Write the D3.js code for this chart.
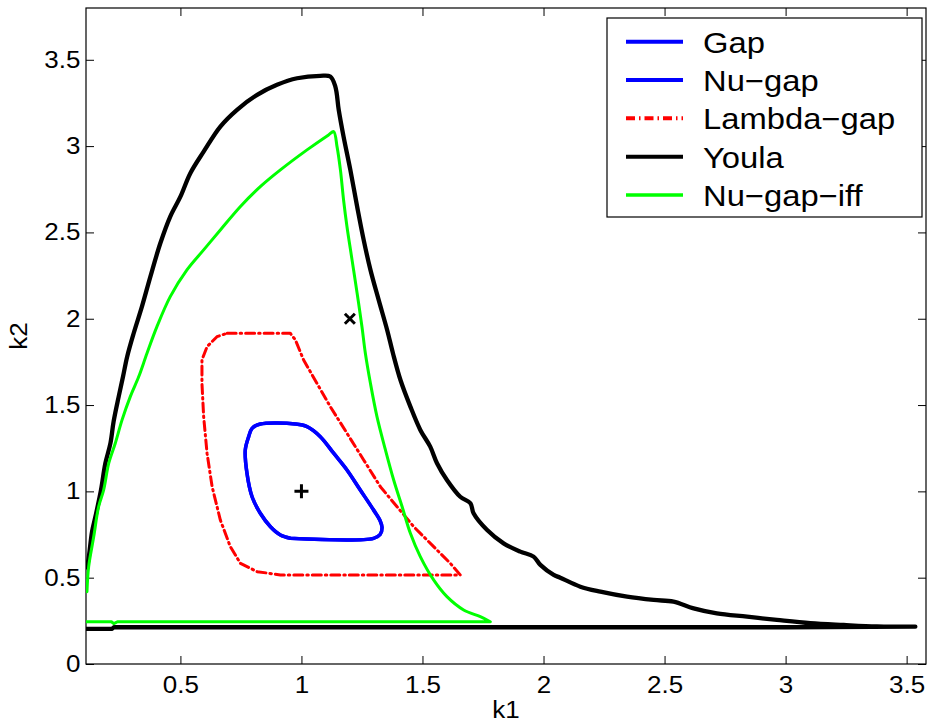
<!DOCTYPE html>
<html>
<head>
<meta charset="utf-8">
<script src="https://cdn.jsdelivr.net/npm/d3@7"></script>
<style>
  html, body { margin: 0; padding: 0; background: #fff; }
  svg { display: block; }
  text { font-family: "Liberation Sans", Arial, sans-serif; fill: #000; }
</style>
</head>
<body>
<svg id="chart" width="927" height="724"></svg>
<script>
// ---------------- data ----------------
const xTicks = [0.5, 1, 1.5, 2, 2.5, 3, 3.5];
const yTicks = [0, 0.5, 1, 1.5, 2, 2.5, 3, 3.5];
const xLabel = "k1";
const yLabel = "k2";
const legendLabels = ["Gap", "Nu\u2212gap", "Lambda\u2212gap", "Youla", "Nu\u2212gap\u2212iff"];

// Gap (and Nu-gap, identical) closed contour [k1, k2]
const gapCurve = [
  [0.954, 0.728], [1.298, 0.728], [1.325, 0.750], [1.333, 0.790], [1.325, 0.830], [1.298, 0.892],
  [1.243, 1.008], [1.188, 1.124], [1.133, 1.221], [1.078, 1.317], [1.023, 1.375],
  [0.975, 1.390], [0.830, 1.390], [0.796, 1.365], [0.782, 1.317], [0.768, 1.240],
  [0.775, 1.105], [0.796, 0.969], [0.830, 0.873], [0.872, 0.795], [0.913, 0.747],
  [0.954, 0.728]
];
const nuGapCurve = gapCurve;

// Lambda-gap closed contour
const lambdaGapCurve = [
  [0.693, 1.916], [0.954, 1.916], [0.975, 1.877], [1.009, 1.761], [1.064, 1.626],
  [1.119, 1.491], [1.188, 1.337], [1.257, 1.182], [1.326, 1.027], [1.395, 0.911],
  [1.464, 0.795], [1.546, 0.680], [1.615, 0.583], [1.656, 0.516], [0.913, 0.516],
  [0.817, 0.535], [0.748, 0.583], [0.706, 0.680], [0.665, 0.834], [0.631, 1.027],
  [0.610, 1.221], [0.596, 1.433], [0.589, 1.626], [0.589, 1.761], [0.610, 1.838],
  [0.651, 1.896], [0.693, 1.916]
];

// Youla boundary (first 6 points: straight bottom edge)
const youlaCurve = [
  [0.110, 0.204], [0.218, 0.204], [0.225, 0.213], [1.500, 0.213], [3.000, 0.213],
  [3.536, 0.216], [3.377, 0.218], [3.240, 0.226], [3.102, 0.236], [2.964, 0.255],
  [2.841, 0.274], [2.716, 0.293], [2.620, 0.322], [2.537, 0.361], [2.455, 0.371],
  [2.345, 0.390], [2.235, 0.419], [2.152, 0.448], [2.069, 0.500], [2.042, 0.516],
  [1.987, 0.574], [1.959, 0.622], [1.904, 0.651], [1.835, 0.699], [1.767, 0.776],
  [1.711, 0.873], [1.698, 0.931], [1.656, 0.969], [1.601, 1.066], [1.560, 1.163],
  [1.532, 1.259], [1.491, 1.356], [1.450, 1.491], [1.409, 1.645], [1.378, 1.800],
  [1.354, 1.935], [1.319, 2.109], [1.285, 2.283], [1.257, 2.457], [1.230, 2.650],
  [1.202, 2.862], [1.174, 3.055], [1.154, 3.210], [1.140, 3.345], [1.119, 3.403],
  [1.078, 3.407], [0.982, 3.393], [0.899, 3.355], [0.817, 3.297], [0.734, 3.210],
  [0.665, 3.113], [0.596, 2.968], [0.541, 2.843], [0.500, 2.707], [0.458, 2.592],
  [0.417, 2.437], [0.376, 2.244], [0.341, 2.070], [0.307, 1.916], [0.280, 1.780],
  [0.263, 1.665], [0.245, 1.549], [0.224, 1.404], [0.211, 1.279], [0.190, 1.163],
  [0.172, 1.008], [0.149, 0.854], [0.135, 0.767], [0.117, 0.583], [0.110, 0.560]
];

// Nu-gap-iff boundary (first 6 points: straight bottom edge)
const nuGapIffCurve = [
  [0.110, 0.245], [0.215, 0.245], [0.225, 0.234], [0.240, 0.245], [1.000, 0.245],
  [1.780, 0.245], [1.739, 0.274], [1.670, 0.313], [1.601, 0.390], [1.546, 0.487],
  [1.491, 0.622], [1.450, 0.757], [1.416, 0.911], [1.381, 1.066], [1.347, 1.240],
  [1.312, 1.433], [1.285, 1.626], [1.264, 1.800], [1.250, 1.954], [1.230, 2.148],
  [1.209, 2.341], [1.188, 2.534], [1.174, 2.688], [1.161, 2.862], [1.147, 2.997],
  [1.133, 3.084], [1.112, 3.065], [1.023, 2.978], [0.913, 2.862], [0.830, 2.765],
  [0.748, 2.650], [0.665, 2.514], [0.596, 2.399], [0.527, 2.283], [0.458, 2.128],
  [0.403, 1.954], [0.362, 1.800], [0.328, 1.665], [0.293, 1.549], [0.259, 1.414],
  [0.231, 1.279], [0.204, 1.163], [0.183, 1.008], [0.162, 0.911], [0.142, 0.738],
  [0.121, 0.564], [0.114, 0.419]
];

// markers
const plusPoint = [1.0, 1.0];
const crossPoint = [1.2, 2.0];

// ---------------- drawing ----------------
const svg = d3.select("#chart");
const L = 86, R = 926, T = 8, B = 664;
const x = d3.scaleLinear().domain([0.11, 3.58]).range([L, R]);
const y = d3.scaleLinear().domain([0, 3.8]).range([B, T]);
const SX = 1.13;

svg.append("defs").append("clipPath").attr("id", "plotclip")
  .append("rect").attr("x", L).attr("y", T).attr("width", R - L).attr("height", B - T);

// axes
const gx = svg.append("g").attr("transform", `translate(0,${B})`)
  .call(d3.axisBottom(x).tickValues(xTicks).tickFormat(d => String(d))
    .tickSizeInner(-8).tickSizeOuter(0).tickPadding(13));
const gy = svg.append("g").attr("transform", `translate(${L},0)`)
  .call(d3.axisLeft(y).tickValues(yTicks).tickFormat(d => String(d))
    .tickSizeInner(-8).tickSizeOuter(0).tickPadding(5));
const gxt = svg.append("g").attr("transform", `translate(0,${T})`)
  .call(d3.axisTop(x).tickValues(xTicks).tickFormat("")
    .tickSizeInner(-8).tickSizeOuter(0));
const gyr = svg.append("g").attr("transform", `translate(${R},0)`)
  .call(d3.axisRight(y).tickValues(yTicks).tickFormat("")
    .tickSizeInner(-8).tickSizeOuter(0));

[gx, gy, gxt, gyr].forEach(g => {
  g.select(".domain").remove();
  g.selectAll(".tick line").attr("stroke", "#000").attr("stroke-width", 1);
  g.selectAll("text").attr("font-size", 23)
    .attr("font-family", "'Liberation Sans', Arial, sans-serif")
    .attr("fill", "#000");
});
gx.selectAll(".tick text").attr("transform", `scale(${SX},1)`);
gy.selectAll(".tick text").attr("transform", `scale(${SX},1)`);

// frame
svg.append("rect").attr("x", L).attr("y", T).attr("width", R - L).attr("height", B - T)
  .attr("fill", "none").attr("stroke", "#000").attr("stroke-width", 1.2);

// curves
const line = d3.line().x(d => x(d[0])).y(d => y(d[1]));
const smooth = d3.line().x(d => x(d[0])).y(d => y(d[1])).curve(d3.curveCatmullRom.alpha(0.5));
const plot = svg.append("g").attr("clip-path", "url(#plotclip)");

const series = [
  { data: gapCurve, color: "#0000ff", width: 3.5, dash: null, split: 0 },
  { data: nuGapCurve, color: "#0000ff", width: 3.5, dash: null, split: 0 },
  { data: lambdaGapCurve, color: "#ff0000", width: 3, dash: "9,4,1.5,4", split: -1 },
  { data: youlaCurve, color: "#000000", width: 4.3, dash: null, split: 5 },
  { data: nuGapIffCurve, color: "#00ff00", width: 3, dash: null, split: 5 }
];
function pathFor(s) {
  if (s.split < 0) return line(s.data);
  const straight = s.split > 0 ? line(s.data.slice(0, s.split + 1)) : "";
  return straight + smooth(s.data.slice(s.split));
}
series.forEach(s => {
  plot.append("path").attr("d", pathFor(s))
    .attr("fill", "none").attr("stroke", s.color).attr("stroke-width", s.width)
    .attr("stroke-linejoin", "round").attr("stroke-linecap", "round")
    .attr("stroke-dasharray", s.dash);
});

// markers
const px = x(plusPoint[0]), py = y(plusPoint[1]);
plot.append("path").attr("d", `M${px - 7},${py}H${px + 7}M${px},${py - 7}V${py + 7}`)
  .attr("stroke", "#000").attr("stroke-width", 3);
const cx = x(crossPoint[0]), cy = y(crossPoint[1]);
plot.append("path").attr("d", `M${cx - 5},${cy - 5}L${cx + 5},${cy + 5}M${cx - 5},${cy + 5}L${cx + 5},${cy - 5}`)
  .attr("stroke", "#000").attr("stroke-width", 3);

// axis labels
svg.append("text").attr("transform", `translate(${(L + R) / 2},718) scale(${SX},1)`)
  .attr("text-anchor", "middle").attr("font-size", 23).text(xLabel);
svg.append("text").attr("transform", `translate(27,${(T + B) / 2}) rotate(-90) scale(${SX},1)`)
  .attr("text-anchor", "middle").attr("font-size", 23).text(yLabel);

// legend
const lg = svg.append("g");
lg.append("rect").attr("x", 607).attr("y", 18).attr("width", 315).attr("height", 199)
  .attr("fill", "#fff").attr("stroke", "#000").attr("stroke-width", 1.2);
const rowY = d3.scalePoint().domain(d3.range(legendLabels.length)).range([41.7, 195]);
legendLabels.forEach((lab, i) => {
  const s = series[i];
  const yy = rowY(i);
  lg.append("line").attr("x1", 626).attr("x2", 683).attr("y1", yy).attr("y2", yy)
    .attr("stroke", s.color).attr("stroke-width", i === 4 ? 3.5 : 4)
    .attr("stroke-dasharray", s.dash);
  lg.append("text").attr("transform", `translate(703,${yy + 11}) scale(${SX},1)`)
    .attr("font-size", 29).text(lab);
});
</script>
</body>
</html>
